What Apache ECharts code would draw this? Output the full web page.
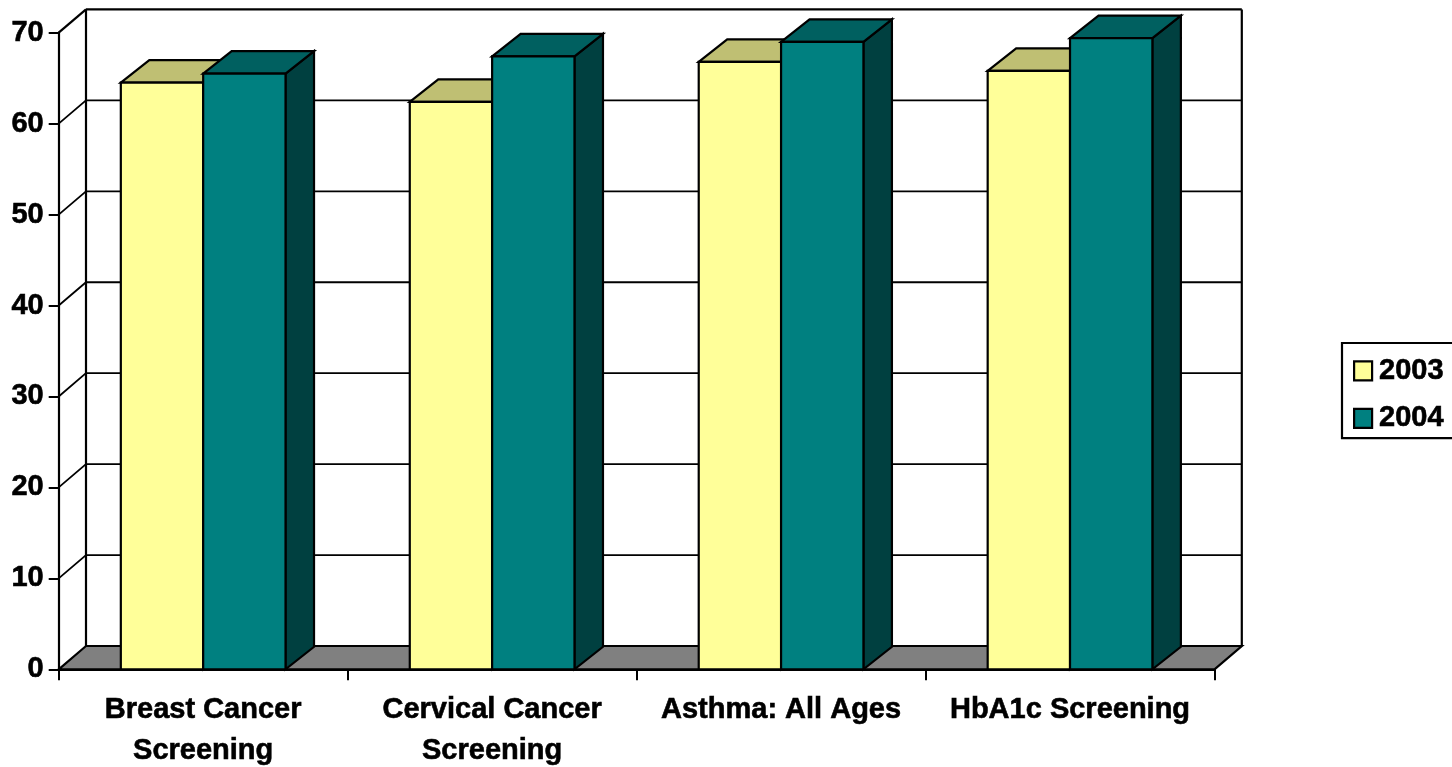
<!DOCTYPE html>
<html>
<head>
<meta charset="utf-8">
<title>Screening rates, 2003 and 2004</title>
<style>
  html, body { margin: 0; padding: 0; background: #fff; overflow: hidden; }
  #chart { width: 1452px; height: 767px; }
</style>
<script src="https://cdn.jsdelivr.net/npm/echarts@6/dist/echarts.min.js"></script>
</head>
<body>
<div id="chart"></div>
<script>
// Chart data
const categories = ['Breast Cancer\nScreening', 'Cervical Cancer\nScreening', 'Asthma: All Ages', 'HbA1c Screening'];
const values2003 = [64.5, 62.4, 66.8, 65.8];
const values2004 = [65.5, 67.4, 69.0, 69.4];
const yTicks = [0, 10, 20, 30, 40, 50, 60, 70];

// Oblique projection offsets for the back wall and for the bar depth
const WALL_DX = 27.3, WALL_DY = 23.3;
const BAR_DX = 28.5, BAR_DY = 22.5;
const BAR_BAND_SHARE = 0.285;
const FONT = '"Liberation Sans", Arial, sans-serif';
const EDGE = { stroke: '#000', lineWidth: 2.2, lineJoin: 'miter' };
const LABEL_WEIGHT = { textBorderColor: '#000', textBorderWidth: 0.6 };

const chart = echarts.init(document.getElementById('chart'), null, { renderer: 'canvas' });

// Floor and back wall outline
function renderFrame(params, api) {
  const g = params.coordSys;
  const l = g.x, r = g.x + g.width, t = g.y, b = g.y + g.height;
  const poly = (points, fill, width) => ({
    type: 'polygon', shape: { points },
    style: { fill, stroke: '#000', lineWidth: width, lineJoin: 'miter' }
  });
  const line = (x1, y1, x2, y2) => ({
    type: 'line', shape: { x1, y1, x2, y2 }, style: { stroke: '#000', lineWidth: 2.2 }
  });
  return {
    type: 'group',
    children: [
      poly([[l, b], [l + WALL_DX, b - WALL_DY], [r + WALL_DX, b - WALL_DY], [r, b]], '#808080', 2.2),
      line(l + WALL_DX, t - WALL_DY, l + WALL_DX, b - WALL_DY),
      line(l + WALL_DX, t - WALL_DY, r + WALL_DX, t - WALL_DY),
      line(r + WALL_DX, t - WALL_DY, r + WALL_DX, b - WALL_DY),
      line(l, t, l + WALL_DX, t - WALL_DY)
    ]
  };
}

// One gridline per tick: short diagonal on the side wall, then across the back wall
function renderGridline(params, api) {
  const g = params.coordSys;
  const y = api.coord([0, api.value(0)])[1];
  const lx = g.x, rx = g.x + g.width + WALL_DX;
  return {
    type: 'polyline',
    shape: { points: [[lx, y], [lx + WALL_DX, y - WALL_DY], [rx, y - WALL_DY]] },
    style: { fill: 'none', stroke: '#000', lineWidth: 1.8 }
  };
}

// Extruded bar: side offset selects the left or right half of the category centre
function bar3d(side, front, top, right) {
  return function (params, api) {
    const cat = api.value(0);
    const val = api.value(1);
    const hi = api.coord([cat, val]);
    const lo = api.coord([cat, 0]);
    const w = api.size([1, 0])[0] * BAR_BAND_SHARE;
    const x0 = side === 0 ? hi[0] - w : hi[0];
    const x1 = x0 + w;
    const yt = hi[1], yb = lo[1];
    const poly = (points, fill) => ({ type: 'polygon', shape: { points }, style: Object.assign({ fill }, EDGE) });
    return {
      type: 'group',
      children: [
        poly([[x1, yt], [x1 + BAR_DX, yt - BAR_DY], [x1 + BAR_DX, yb - BAR_DY], [x1, yb]], right),
        poly([[x0, yt], [x0 + BAR_DX, yt - BAR_DY], [x1 + BAR_DX, yt - BAR_DY], [x1, yt]], top),
        poly([[x0, yt], [x1, yt], [x1, yb], [x0, yb]], front)
      ]
    };
  };
}

chart.setOption({
  animation: false,
  backgroundColor: '#fff',
  grid: { left: 58.7, right: 237.5, top: 32.7, height: 636.6, containLabel: false, outerBoundsMode: 'none' },
  legend: {
    data: ['2003', '2004'],
    left: 1342, top: 343,
    orient: 'vertical',
    icon: 'rect',
    itemWidth: 18, itemHeight: 19,
    itemGap: 18,
    padding: [13, 40, 5, 11],
    borderColor: '#000', borderWidth: 2.2,
    itemStyle: { borderColor: '#000', borderWidth: 2.2 },
    textStyle: Object.assign({ color: '#000', fontFamily: FONT, fontWeight: 'bold', fontSize: 29, padding: [0, 0, 0, 2] }, LABEL_WEIGHT)
  },
  xAxis: {
    type: 'category',
    data: categories,
    axisLine: { show: true, onZero: false, lineStyle: { color: '#000', width: 2.2 } },
    axisTick: { show: true, length: 11, alignWithLabel: false, lineStyle: { color: '#000', width: 2 } },
    axisLabel: Object.assign({
      show: true, interval: 0, margin: 20, color: '#000',
      fontFamily: FONT, fontWeight: 'bold', fontSize: 29, lineHeight: 41
    }, LABEL_WEIGHT),
    splitLine: { show: false }
  },
  yAxis: {
    type: 'value',
    min: 0, max: 70, interval: 10,
    axisLine: { show: true, lineStyle: { color: '#000', width: 2.2 } },
    axisTick: { show: true, length: 10, lineStyle: { color: '#000', width: 2 } },
    axisLabel: Object.assign({ show: true, margin: 15, color: '#000', fontFamily: FONT, fontWeight: 'bold', fontSize: 29 }, LABEL_WEIGHT),
    splitLine: { show: false }
  },
  series: [
    { type: 'custom', name: 'frame', z: 1, silent: true, renderItem: renderFrame, data: [[0]], encode: { x: -1, y: -1 } },
    { type: 'custom', name: 'gridlines', z: 2, silent: true, renderItem: renderGridline,
      data: yTicks.filter(v => v > 0 && v < 70).map(v => [v]), encode: { y: 0, x: -1 } },
    { type: 'custom', name: '2003', z: 3, itemStyle: { color: '#FFFF99' },
      renderItem: bar3d(0, '#FFFF99', '#BFBF73', '#BFBF73'),
      data: values2003.map((v, i) => [i, v]), encode: { x: 0, y: 1 } },
    { type: 'custom', name: '2004', z: 4, itemStyle: { color: '#008080' },
      renderItem: bar3d(1, '#008080', '#006060', '#004040'),
      data: values2004.map((v, i) => [i, v]), encode: { x: 0, y: 1 } }
  ]
});
</script>
</body>
</html>
